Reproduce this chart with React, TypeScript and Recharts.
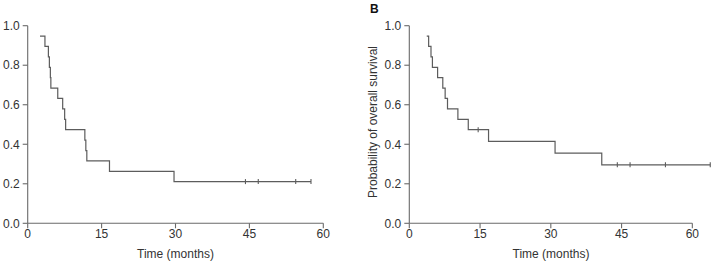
import React from 'react';
import { ComposedChart, Line, XAxis, YAxis, ReferenceLine } from 'recharts';

// Tick values
const xTicks = [0, 15, 30.0001, 45, 60];
const yTicks = [0, 0.2, 0.4, 0.6, 0.8, 1.0];

// Panel A (left) — Kaplan-Meier steps
const leftTimes = [2.5, 3.5, 4.2, 4.4, 4.6, 4.7, 6.1, 7.1, 7.5, 7.7, 11.6, 11.8, 12.0, 16.6, 29.7, 57.5];
const leftSurv = [0.947, 0.895, 0.842, 0.789, 0.737, 0.684, 0.632, 0.579, 0.526, 0.474, 0.421, 0.368, 0.316, 0.263, 0.211, 0.211];
const leftCensorTimes = [44.2, 46.8, 54.4, 57.5];
const leftCensorSurv = [0.211, 0.211, 0.211, 0.211];

// Panel B (right)
const rightTimes = [3.7, 4.1, 4.6, 4.9, 6.0, 7.1, 7.6, 8.1, 10.3, 12.5, 16.8, 30.9, 40.8, 63.8];
const rightSurv = [0.947, 0.895, 0.842, 0.789, 0.737, 0.684, 0.632, 0.579, 0.526, 0.474, 0.415, 0.355, 0.296, 0.296];
const rightCensorTimes = [14.6, 44.1, 46.8, 54.3, 63.8];
const rightCensorSurv = [0.474, 0.296, 0.296, 0.296, 0.296];

const xLabel = 'Time (months)';
const yLabel = 'Probability of overall survival';
const panelLetter = 'B';

const FONT = "'Liberation Sans', Arial, Helvetica, sans-serif";
const TEXT = '#333333';
const AXIS = '#6a6a6a';
const CURVE = '#5c5c5c';

const toRows = (t: number[], s: number[]) => t.map((v, i) => ({ t: v, s: s[i] }));

const CensorMark = (props: any) => {
  const { cx, cy, index } = props;
  if (cx == null || cy == null) return <g key={`c-${index}`} />;
  return (
    <line key={`c-${index}`} x1={cx} x2={cx} y1={cy - 2.5} y2={cy + 2.5} stroke={CURVE} strokeWidth={1.1} />
  );
};

type PanelProps = {
  width: number;
  margin: { top: number; right: number; bottom: number; left: number };
  yAxisWidth: number;
  xMax: number;
  clipAxisAt60: boolean;
  times: number[];
  surv: number[];
  cTimes: number[];
  cSurv: number[];
};

const Panel = ({ width, margin, yAxisWidth, xMax, clipAxisAt60, times, surv, cTimes, cSurv }: PanelProps) => {
  const lineData = toRows(times, surv);
  const censorData = toRows(cTimes, cSurv);
  const tickStyle = { fontSize: 12, fill: TEXT, fontFamily: FONT };
  return (
    <ComposedChart width={width} height={262} margin={margin}>
      <XAxis
        type="number"
        dataKey="t"
        domain={[0, xMax]}
        ticks={xTicks}
        interval={0}
        height={38.7}
        tickSize={5}
        tickMargin={1.5}
        tick={tickStyle}
        tickFormatter={(v: number) => String(Math.round(v))}
        axisLine={clipAxisAt60 ? false : { stroke: AXIS, strokeWidth: 1.1 }}
        tickLine={{ stroke: AXIS, strokeWidth: 1.1 }}
      />
      <YAxis
        type="number"
        domain={[0, 1]}
        ticks={yTicks}
        interval={0}
        width={yAxisWidth}
        tickSize={5}
        tickMargin={3}
        tick={tickStyle}
        tickFormatter={(v: number) => v.toFixed(1)}
        axisLine={{ stroke: AXIS, strokeWidth: 1.1 }}
        tickLine={{ stroke: AXIS, strokeWidth: 1.1 }}
      />
      {clipAxisAt60 && (
        <ReferenceLine
          segment={[{ x: 0, y: 0 }, { x: 60, y: 0 }]}
          stroke={AXIS}
          strokeWidth={1.1}
        />
      )}
      <Line
        data={lineData}
        dataKey="s"
        type="stepAfter"
        stroke={CURVE}
        strokeWidth={1.2}
        dot={false}
        activeDot={false}
        isAnimationActive={false}
      />
      <Line
        data={censorData}
        dataKey="s"
        type="linear"
        stroke="none"
        dot={<CensorMark />}
        activeDot={false}
        isAnimationActive={false}
      />
    </ComposedChart>
  );
};

export default function App() {
  return (
    <div style={{ position: 'absolute', left: 0, top: 0, width: 714, height: 262, background: '#fff', fontFamily: FONT }}>
      <div style={{ position: 'absolute', left: 0, top: 0 }}>
        <Panel
          width={340}
          margin={{ top: 25.7, right: 16.7, bottom: 0, left: 0 }}
          yAxisWidth={27.7}
          xMax={60}
          clipAxisAt60={false}
          times={leftTimes}
          surv={leftSurv}
          cTimes={leftCensorTimes}
          cSurv={leftCensorSurv}
        />
      </div>
      <div style={{ position: 'absolute', left: 354, top: 0 }}>
        <Panel
          width={360}
          margin={{ top: 25.7, right: 2.8, bottom: 0, left: 25.3 }}
          yAxisWidth={30}
          xMax={64}
          clipAxisAt60={true}
          times={rightTimes}
          surv={rightSurv}
          cTimes={rightCensorTimes}
          cSurv={rightCensorSurv}
        />
      </div>
      <svg width={714} height={262} style={{ position: 'absolute', left: 0, top: 0, pointerEvents: 'none' }}>
        <text x={370} y={12.5} fontSize={12} fontWeight="bold" fill="#111" fontFamily={FONT}>
          {panelLetter}
        </text>
        <text x={175.5} y={258} fontSize={12} fill={TEXT} fontFamily={FONT} textAnchor="middle">
          {xLabel}
        </text>
        <text x={551} y={258} fontSize={12} fill={TEXT} fontFamily={FONT} textAnchor="middle">
          {xLabel}
        </text>
        <text
          x={377}
          y={122}
          fontSize={12}
          fill={TEXT}
          fontFamily={FONT}
          textAnchor="middle"
          transform="rotate(-90, 377, 122)"
        >
          {yLabel}
        </text>
      </svg>
    </div>
  );
}
